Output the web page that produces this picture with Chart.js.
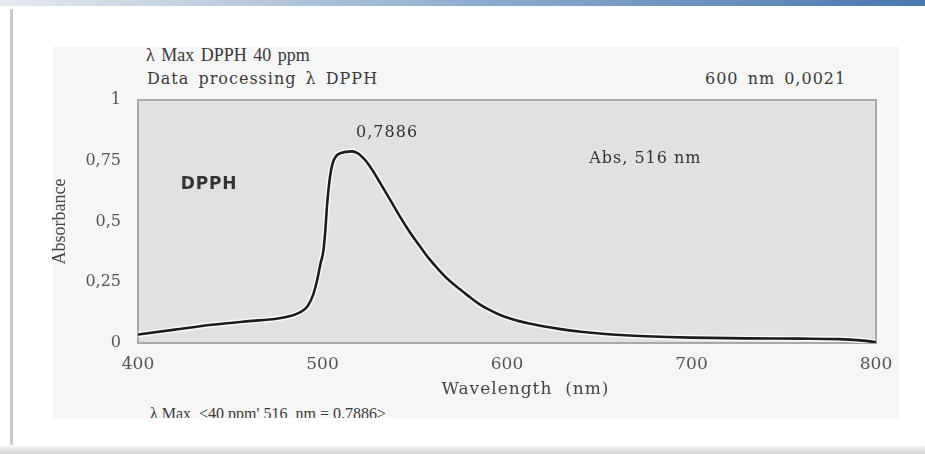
<!DOCTYPE html>
<html>
<head>
<meta charset="utf-8">
<script src="https://cdn.jsdelivr.net/npm/chart.js@4.4.1/dist/chart.umd.min.js"></script>
<style>
  html, body { margin: 0; padding: 0; background: #fff; }
  body { width: 925px; height: 454px; position: relative; overflow: hidden; font-family: "DejaVu Serif", serif; color: #3a3a3a; }
  #topbar { position: absolute; left: 0; top: 0; width: 925px; height: 6px; background: linear-gradient(to right, #e4e9ef, #8aa8cc 55%, #4a78b0); }
  #frame { position: absolute; left: 10px; top: 9px; width: 3px; height: 436px; background: #c9c9c9; }
  #bottombar { position: absolute; left: 0; top: 446px; width: 925px; height: 8px; background: linear-gradient(#f2f2f2, #d6d6d6); }
  #panel { position: absolute; left: 52px; top: 47px; width: 848px; height: 371px; background: #f6f6f6; }
  .txt { position: absolute; white-space: nowrap; line-height: 1; }
  .wide { font-size: 16px; letter-spacing: 1px; word-spacing: 3px; }
  #clip { position: absolute; left: 140px; top: 400px; width: 400px; height: 18px; overflow: hidden; }
  canvas { position: absolute; left: 0; top: 0; }
</style>
</head>
<body>
<div id="topbar"></div>
<div id="frame"></div>
<div id="bottombar"></div>
<div id="panel"></div>
<div class="txt" style="left:146px; top:46px; font-family:'Liberation Serif'; font-size:18px; word-spacing:2px;">λ Max DPPH 40 ppm</div>
<div class="txt wide" style="left:147px; top:71px;">Data processing λ DPPH</div>
<div class="txt wide" style="left:705px; top:71px;">600 nm 0,0021</div>
<div id="clip"><div class="txt" style="left:10px; top:6px; font-family:'Liberation Serif'; font-size:16px;">λ Max &nbsp;&lt;40 ppm' 516 &nbsp;nm = 0.7886&gt;</div></div>
<canvas id="spectrum" width="925" height="454"></canvas>
<script>
// 파장(nm) / 흡광도 - 그림에서 읽은 값
const wavelength = [400, 420, 440, 460, 475, 483, 488, 492, 495, 497, 499, 500.5, 501.5, 502.5, 504, 505.5, 507.5, 510, 516,
  519, 522, 525, 528, 531, 537, 542, 547, 553, 558, 564, 569, 575, 580, 585, 590, 596, 602, 607, 612, 618, 629, 640, 655, 675,
  700, 730, 760, 780, 790, 800];
const absorbance = [0.035, 0.055, 0.075, 0.09, 0.1, 0.112, 0.127, 0.152, 0.2, 0.255, 0.33, 0.38, 0.46, 0.57, 0.68, 0.74, 0.77, 0.782, 0.7886,
  0.781, 0.762, 0.735, 0.7, 0.662, 0.585, 0.52, 0.46, 0.396, 0.345, 0.293, 0.255, 0.218, 0.188, 0.16, 0.138, 0.116, 0.1, 0.089, 0.08, 0.071, 0.057, 0.046, 0.036, 0.028,
  0.022, 0.019, 0.018, 0.016, 0.012, 0.004];

const yTickValues = [0, 0.25, 0.5, 0.75, 1];
const yTickText = ["0", "0,25", "0,5", "0,75", "1"];
const xTickValues = [400, 500, 600, 700, 800];

const points = wavelength.map((w, i) => ({ x: w, y: absorbance[i] }));

// 플롯 배경 + 테두리
const plotBox = {
  id: "plotBox",
  beforeDatasetsDraw(chart) {
    const { ctx, chartArea: a } = chart;
    ctx.save();
    ctx.fillStyle = "#e1e1e1";
    ctx.fillRect(a.left, a.top, a.right - a.left, a.bottom - a.top);
    ctx.strokeStyle = "#a9a9a9";
    ctx.lineWidth = 2;
    ctx.strokeRect(a.left, a.top, a.right - a.left, a.bottom - a.top);
    ctx.restore();
  },
};

// 그래프 안 글자 + x축 제목
const notes = {
  id: "notes",
  afterDatasetsDraw(chart) {
    const { ctx, scales } = chart;
    const x = scales.x, y = scales.y;
    ctx.save();
    ctx.fillStyle = "#333";
    ctx.textAlign = "center";
    ctx.textBaseline = "middle";
    ctx.letterSpacing = "1px";
    ctx.font = "16px 'DejaVu Serif'";
    ctx.fillText("0,7886", x.getPixelForValue(535), y.getPixelForValue(0.864));
    ctx.fillText("Abs, 516 nm", x.getPixelForValue(675), y.getPixelForValue(0.757));
    ctx.font = "bold 17px 'DejaVu Sans'";
    ctx.letterSpacing = "0.8px";
    ctx.fillText("DPPH", x.getPixelForValue(438.5), y.getPixelForValue(0.65));
    ctx.fillStyle = "#444";
    ctx.letterSpacing = "1px";
    ctx.font = "17px 'DejaVu Serif'";
    ctx.fillText("Wavelength  (nm)", x.getPixelForValue(610), y.bottom + 47);
    ctx.restore();
  },
};

const chart = new Chart(document.getElementById("spectrum").getContext("2d"), {
  type: "line",
  data: {
    datasets: [
      {
        data: points,
        borderColor: "#1c1c1c",
        borderWidth: 2.6,
        pointRadius: 0,
        cubicInterpolationMode: "monotone",
        order: 0,
      },
      {
        // 원본의 흰 테두리 느낌
        data: points,
        borderColor: "rgba(255,255,255,0.85)",
        borderWidth: 5.5,
        pointRadius: 0,
        cubicInterpolationMode: "monotone",
        order: 1,
      },
    ],
  },
  options: {
    responsive: false,
    animation: false,
    devicePixelRatio: 1,
    layout: { padding: { left: 49, top: 100, right: 49, bottom: 54 } },
    plugins: { legend: { display: false }, tooltip: { enabled: false } },
    scales: {
      x: {
        type: "linear",
        min: 400,
        max: 800,
        afterBuildTicks: (s) => { s.ticks = xTickValues.map((v) => ({ value: v })); },
        afterFit: (s) => { s.height = 57; },
        grid: { display: false, drawTicks: false },
        border: { display: false },
        ticks: { padding: 11, color: "#555", font: { family: "DejaVu Serif", size: 17 } },
      },
      y: {
        min: 0,
        max: 1,
        afterBuildTicks: (s) => { s.ticks = yTickValues.map((v) => ({ value: v })); },
        afterFit: (s) => { s.width = 89; },
        grid: { display: false, drawTicks: false },
        border: { display: false },
        ticks: {
          padding: 17,
          color: "#555",
          font: { family: "DejaVu Serif", size: 16 },
          callback: (v) => yTickText[yTickValues.indexOf(v)],
        },
        title: {
          display: true,
          text: "Absorbance",
          color: "#444",
          padding: { top: 0, bottom: 0 },
          font: { family: "Liberation Serif", size: 18 },
        },
      },
    },
  },
  plugins: [plotBox, notes],
});
</script>
</body>
</html>
